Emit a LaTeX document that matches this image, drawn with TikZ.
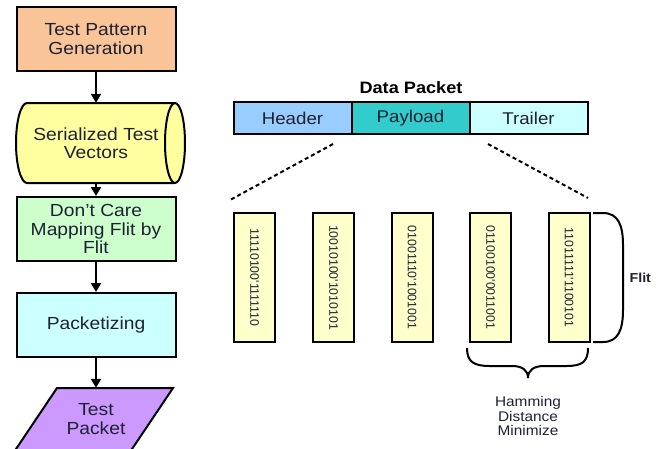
\documentclass[tikz,border=0pt]{standalone}
\usepackage{fontspec}
\setmainfont{Liberation Sans}[FakeStretch=1.1]
\newfontfamily\bitfont{Liberation Sans}
\usetikzlibrary{arrows.meta}
\definecolor{txt}{HTML}{1E2133}
\definecolor{tpgc}{HTML}{F9C598}
\definecolor{svtc}{HTML}{FFFFA0}
\definecolor{dcc}{HTML}{CCFFCC}
\definecolor{pkc}{HTML}{CCFFFF}
\definecolor{tpc}{HTML}{CC99FF}
\definecolor{hdc}{HTML}{99CCFF}
\definecolor{plc}{HTML}{33CCCC}
\definecolor{trc}{HTML}{CCFFFF}
\definecolor{flitc}{HTML}{FFFFCC}
\begin{document}
\begin{tikzpicture}[x=1pt,y=-1pt,
  box/.style={draw, line width=2pt, minimum width=159pt, minimum height=64pt,
    align=center, font=\fontsize{17.5}{18.5}\selectfont, text=txt, inner sep=0pt},
  ghost/.style={minimum width=159pt, align=center,
    font=\fontsize{17.5}{18.5}\selectfont, text=txt, inner sep=0pt},
  flow/.style={line width=2.2pt, -{Triangle[length=9pt,width=10pt]}},
  seg/.style={draw, line width=2pt, minimum width=118pt, minimum height=32pt,
    font=\fontsize{17}{18}\selectfont, text=txt, inner sep=0pt},
  flitbox/.style={draw, line width=2pt, fill=flitc, minimum width=41pt,
    minimum height=129pt, inner sep=0pt},
  bits/.style={font={\fontsize{12.3}{13}\selectfont\bitfont}, text=txt, rotate=-90},
  dashline/.style={line width=2pt, dash pattern=on 4pt off 3pt},
  bracestyle/.style={line width=2pt}
]
\useasboundingbox (0,0) rectangle (661,448);
\clip (0,0) rectangle (661,448);

% left column
\node[box, fill=tpgc] (tpg) at (96,39) {Test Pattern\\Generation};

% cylinder outline
\fill[svtc] (27,103) -- (175,103)
  .. controls (180.52,103) and (185,120.9) .. (185,143)
  .. controls (185,165.1) and (180.52,183) .. (175,183)
  -- (27,183)
  .. controls (20.92,183) and (16,165.1) .. (16,143)
  .. controls (16,120.9) and (20.92,103) .. (27,103) -- cycle;
\draw[line width=2pt] (27,103) -- (175,103)
  .. controls (180.52,103) and (185,120.9) .. (185,143)
  .. controls (185,165.1) and (180.52,183) .. (175,183)
  -- (27,183)
  .. controls (20.92,183) and (16,165.1) .. (16,143)
  .. controls (16,120.9) and (20.92,103) .. (27,103) -- cycle;
\draw[line width=2pt] (175,103)
  .. controls (169.48,103) and (165,120.9) .. (165,143)
  .. controls (165,165.1) and (169.48,183) .. (175,183);
\node[ghost, minimum height=80pt] (svt) at (96,143) {Serialized Test\\Vectors};

\node[box, fill=dcc] (dc) at (96,229) {Don’t Care\\Mapping Flit by\\Flit};
\node[box, fill=pkc] (pk) at (96,325) {Packetizing};

% parallelogram
\draw[line width=2pt, fill=tpc] (57,388) -- (173,388) -- (130,452) -- (14,452) -- cycle;
\node[ghost, minimum height=62pt] (tp) at (96,419) {Test\\Packet};

\draw[flow] (tpg) -- (svt);
\draw[flow] (svt) -- (dc);
\draw[flow] (dc) -- (pk);
\draw[flow] (pk) -- (tp);

% data packet
\node[font=\bfseries\fontsize{16.5}{18}\selectfont, text=black] (dptitle) at (411,88) {Data Packet};
\node[seg, fill=hdc] (hdr) at (292.5,118) {Header};
\node[seg, fill=plc] (pl) at (410.5,118) {Payload};
\node[seg, fill=trc] (tr) at (528.5,118) {Trailer};

\coordinate (d1a) at (333,144);
\coordinate (d1b) at (230,200);
\coordinate (d2a) at (488,144);
\coordinate (d2b) at (588,198);
\draw[dashline] (d1a) -- (d1b);
\draw[dashline] (d2a) -- (d2b);

% flits
\node[flitbox] (f1) at (254.5,277.5) {};
\node[flitbox] (f2) at (333.5,277.5) {};
\node[flitbox] (f3) at (412,277.5) {};
\node[flitbox] (f4) at (490.5,277.5) {};
\node[flitbox] (f5) at (569,277.5) {};
\node[bits] (b1) at (f1) {11110100'1111110};
\node[bits] (b2) at (f2) {10010100'1010101};
\node[bits] (b3) at (f3) {01001110'1001001};
\node[bits] (b4) at (f4) {01100100'0011001};
\node[bits] (b5) at (f5) {11011111'1100101};

% flit bracket
\draw[bracestyle] (593,213) -- (603,213)
  .. controls (618,213) and (623,225) .. (623,245) -- (623,310)
  .. controls (623,330) and (618,342) .. (603,342) -- (593,342);
\node[font=\bfseries\fontsize{13}{14}\selectfont, text=txt, anchor=west] (flit) at (626,278) {Flit};

% hamming brace
\draw[bracestyle] (467,348) .. controls (467,362) and (474,366) .. (490,366)
  -- (512,366) .. controls (522,366) and (528,370) .. (528,378)
  .. controls (528,370) and (534,366) .. (544,366)
  -- (566,366) .. controls (582,366) and (588,362) .. (588,348);
\node[align=center, font=\fontsize{14}{14.8}\selectfont, text=txt] (ham) at (528,416) {Hamming\\Distance\\Minimize};
\end{tikzpicture}
\end{document}
